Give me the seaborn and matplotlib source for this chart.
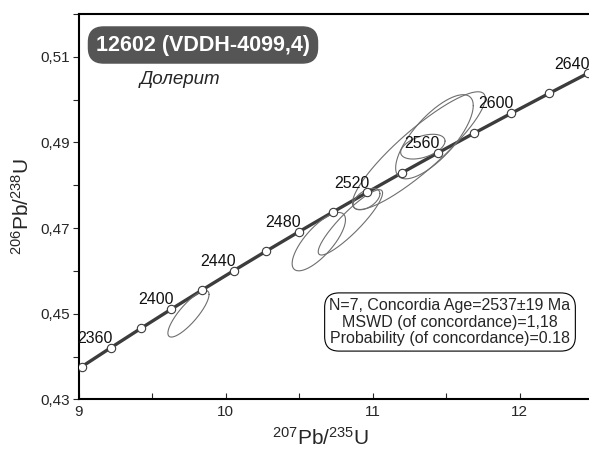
import numpy as np
import seaborn as sns
from matplotlib import pyplot as plt
from matplotlib.ticker import MultipleLocator

# concordia curve (ages in Ma)
curve_age = [2330, 2340, 2360, 2380, 2400, 2420, 2440, 2460, 2480, 2500,
             2520, 2540, 2560, 2580, 2600, 2620, 2640, 2650]
curve_x = [8.9215, 9.0197, 9.2190, 9.4222, 9.6296, 9.8410, 10.0567, 10.2766, 10.5009,
           10.7297, 10.9630, 11.2010, 11.4437, 11.6912, 11.9437, 12.2012, 12.4638, 12.5970]
curve_y = [0.43540, 0.43763, 0.44209, 0.44657, 0.45107, 0.45558, 0.46010, 0.46464, 0.46919,
           0.47375, 0.47833, 0.48293, 0.48754, 0.49216, 0.49679, 0.50144, 0.50611, 0.50845]
label_ages = [2360, 2400, 2440, 2480, 2520, 2560, 2600, 2640]

# analyses: centre, half extents of the ellipse and error correlation
spot_x = [9.747, 10.634, 10.849, 10.959, 11.342, 11.315, 11.421]
spot_y = [0.4500, 0.46684, 0.47134, 0.47677, 0.48901, 0.48808, 0.49132]
spot_sx = [0.140, 0.1815, 0.219, 0.091, 0.151, 0.452, 0.264]
spot_sy = [0.00543, 0.00681, 0.00762, 0.0025, 0.00289, 0.01374, 0.00982]
spot_rho = [0.83, 0.75, 0.90, 0.5, 0.45, 0.89, 0.74]

yticks = [0.43, 0.45, 0.47, 0.49, 0.51]
ytick_labels = ['0,43', '0,45', '0,47', '0,49', '0,51']
xticks = [9, 10, 11, 12]

sample_name = '12602 (VDDH-4099,4)'
rock = 'Долерит'
stats_text = 'N=7, Concordia Age=2537±19 Ma\nMSWD (of concordance)=1,18\nProbability (of concordance)=0.18'

sns.set_style('ticks')
plt.rcParams['font.family'] = ['Liberation Sans', 'DejaVu Sans']
plt.rcParams['mathtext.fontset'] = 'custom'
plt.rcParams['mathtext.rm'] = 'Liberation Sans'
plt.rcParams['mathtext.it'] = 'Liberation Sans:italic'
plt.rcParams['mathtext.bf'] = 'Liberation Sans:bold'

fig = plt.figure(figsize=(5.89, 4.55), dpi=100)
ax = fig.add_axes([0.1336, 0.122, 0.8732, 0.8475])

# concordia line
sns.lineplot(x=curve_x, y=curve_y, sort=False, color='#3c3c3c', linewidth=2.4, ax=ax, zorder=2)

# error ellipses
t = np.linspace(0, 2 * np.pi, 300)
for cx, cy, sx, sy, r in zip(spot_x, spot_y, spot_sx, spot_sy, spot_rho):
    ex = cx + sx * np.cos(t)
    ey = cy + sy * (r * np.cos(t) + np.sqrt(1 - r ** 2) * np.sin(t))
    ax.plot(ex, ey, color='#6e6e6e', linewidth=0.8, zorder=3)

# age markers
sns.scatterplot(x=curve_x[1:-1], y=curve_y[1:-1], s=36, color='white',
                edgecolor='#3c3c3c', linewidth=0.8, ax=ax, zorder=4)
for age, x, y in zip(curve_age, curve_x, curve_y):
    if age in label_ages:
        ax.annotate(str(age), (x, y), xytext=(1.5, 3.5), textcoords='offset points',
                    ha='right', va='baseline', fontsize=11.5, color='#111111', zorder=5)

ax.set_xlim(9, 12.5)
ax.set_ylim(0.43, 0.52)
ax.set_xticks(xticks)
ax.set_xticklabels([str(v) for v in xticks])
ax.xaxis.set_minor_locator(MultipleLocator(0.5))
ax.set_yticks(yticks)
ax.set_yticklabels(ytick_labels)
ax.yaxis.set_minor_locator(MultipleLocator(0.01))
ax.tick_params(axis='x', which='both', direction='in', length=4, width=0.8, labelsize=11, pad=4)
ax.tick_params(axis='y', which='both', direction='out', length=4, width=0.8, labelsize=11, pad=2)
for side in ['left', 'top', 'bottom']:
    ax.spines[side].set_linewidth(1.5)
    ax.spines[side].set_color('black')
ax.spines['right'].set_visible(False)

ax.set_xlabel(r'$^{207}$Pb/$^{235}$U', fontsize=15)
ax.xaxis.set_label_coords(0.471, -0.07)
ax.set_ylabel(r'$^{206}$Pb/$^{238}$U', fontsize=15, labelpad=6)

# sample title and rock name
fig.text(203 / 589, 1 - 45 / 455, sample_name, fontsize=15.5, fontweight='bold', color='white',
         ha='center', va='center',
         bbox=dict(boxstyle='round,pad=0.35,rounding_size=0.7', facecolor='#555555', edgecolor='#555555'))
fig.text(140 / 589, 1 - 79 / 455, rock, fontsize=13.5, style='italic', ha='left', va='center')

# statistics box
fig.text(450 / 589, 1 - 322 / 455, stats_text, fontsize=11.5, ha='center', va='center',
         multialignment='center', linespacing=1.15,
         bbox=dict(boxstyle='round,pad=0.3,rounding_size=0.9', facecolor='white', edgecolor='black',
                   linewidth=0.8))

fig.savefig('out.png', dpi=100)
